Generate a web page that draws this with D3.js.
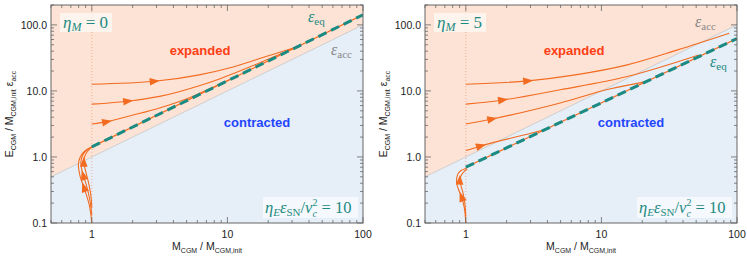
<!DOCTYPE html>
<html>
<head>
<meta charset="utf-8">
<script src="https://cdn.jsdelivr.net/npm/d3@7"></script>
<style>
  body { margin: 0; background: #fff; }
  text { font-family: "Liberation Sans", Arial, sans-serif; }
  .math { font-family: "Liberation Serif", "Times New Roman", serif; }
</style>
</head>
<body>
<script>
const width = 747;
const height = 256;

// axis ticks
const xTicks = [1, 10, 100];
const xTickLabels = ["1", "10", "100"];
const yTicks = [0.1, 1, 10, 100];
const yTickLabels = ["0.1", "1.0", "10.0", "100.0"];

// boundary lines (M, E)
const accLine = [[0.5, 0.5], [100, 100]];
const eqLeft = [[1, 1.42], [100, 142]];
const eqRight = [[1, 0.70], [100, 62]];

// trajectories, eta_M = 0
const leftA = [[1, 12.6], [3.0, 14.1], [6.2, 17.5], [10.3, 22.3], [20.4, 34.5], [32.2, 46.0]];
const leftB = [[1, 6.3], [1.9, 7.05], [3.16, 8.26], [6.2, 12.0], [8.74, 15.2], [17.2, 26.5], [32.2, 45.7]];
const leftC = [[1, 3.16], [1.31, 3.43], [1.9, 4.18], [3.16, 5.53], [5.25, 7.9], [8.02, 11.6], [12, 17.0]];
const leftL1 = [[1, 0.1], [0.958, 0.187], [0.888, 0.316], [0.816, 0.533], [0.796, 0.756], [0.816, 0.966], [0.873, 1.19], [0.934, 1.32], [1.017, 1.44]];
const leftL2 = [[1, 0.132], [0.967, 0.223], [0.911, 0.377], [0.851, 0.593], [0.830, 0.811], [0.851, 1.035], [0.903, 1.23], [0.967, 1.37], [1.017, 1.44]];
const leftL3 = [[1, 0.169], [0.983, 0.266], [0.943, 0.418], [0.896, 0.635], [0.873, 0.84], [0.888, 1.035], [0.935, 1.23], [0.983, 1.37], [1.017, 1.44]];

// trajectories, eta_M = 5
const rightA = [[1, 12.6], [2.88, 14.2], [6.42, 17.5], [15.5, 24.8], [36.4, 41.8], [87.7, 74.9]];
const rightB = [[1, 6.3], [1.88, 7.3], [4.97, 10.4], [15.5, 16.5], [52.3, 35.0]];
const rightC = [[1, 3.16], [1.56, 3.76], [4.97, 6.58], [11.7, 10.8], [20.5, 13.6]];
const rightD = [[1, 1.25], [1.29, 1.47], [3.07, 2.3], [4.0, 2.65]];
const rightL1 = [[1, 0.1], [0.971, 0.177], [0.929, 0.25], [0.877, 0.336], [0.853, 0.422], [0.868, 0.534], [0.918, 0.62], [1.012, 0.674]];
const rightL2 = [[1, 0.125], [0.983, 0.199], [0.955, 0.282], [0.918, 0.377], [0.903, 0.449], [0.929, 0.534], [0.971, 0.599], [1.022, 0.658]];

const orange = "#f26b21";
const teal = "#1b8a82";

const svg = d3.select("body").append("svg")
    .attr("width", width)
    .attr("height", height)
    .attr("viewBox", `0 0 ${width} ${height}`);

const plotW = 312, plotH = 218, plotTop = 5;

// loops run up in E, the others run right in M
const panels = [
    { left: 51, eq: eqLeft, etaM: "0", eqLabelAbove: true,
      trajs: [
        { pts: leftA, arrow: { M: 2.9 } },
        { pts: leftB, arrow: { M: 1.84 } },
        { pts: leftC, arrow: { M: 1.29 } },
        { pts: leftL1, arrow: { E: 0.35 }, loop: true },
        { pts: leftL2, arrow: { E: 0.53 }, loop: true },
        { pts: leftL3, arrow: { E: 0.84 }, loop: true }
      ] },
    { left: 425, eq: eqRight, etaM: "5", eqLabelAbove: false,
      trajs: [
        { pts: rightA, arrow: { M: 2.88 } },
        { pts: rightB, arrow: { M: 1.88 } },
        { pts: rightC, arrow: { M: 1.56 } },
        { pts: rightD, arrow: { M: 1.29 } },
        { pts: rightL1, arrow: { E: 0.25 }, loop: true },
        { pts: rightL2, arrow: { E: 0.45 }, loop: true }
      ] }
];

panels.forEach(p => drawPanel(p));

function drawPanel(p) {
    const x = d3.scaleLog().domain([0.5, 100]).range([p.left, p.left + plotW]);
    const y = d3.scaleLog().domain([0.1, 200]).range([plotTop + plotH, plotTop]);
    const g = svg.append("g");

    const clipId = "clip" + p.left;
    g.append("clipPath").attr("id", clipId)
        .append("rect").attr("x", p.left).attr("y", plotTop).attr("width", plotW).attr("height", plotH);
    const inner = g.append("g").attr("clip-path", `url(#${clipId})`);

    // region fills
    inner.append("rect").attr("x", p.left).attr("y", plotTop).attr("width", plotW).attr("height", plotH)
        .attr("fill", "#fde3d5");
    const accPts = accLine.map(d => [x(d[0]), y(d[1])]);
    inner.append("path")
        .attr("d", d3.line()([accPts[0], accPts[1], [x(100), y(0.1)], [x(0.5), y(0.1)]]) + "Z")
        .attr("fill", "#e6eef8");
    inner.append("path")
        .attr("d", d3.line()(accPts))
        .attr("stroke", "#cfcfcf").attr("stroke-width", 1).attr("fill", "none");

    // vertical dotted line at M = 1
    inner.append("line")
        .attr("x1", x(1)).attr("x2", x(1)).attr("y1", plotTop).attr("y2", plotTop + plotH)
        .attr("stroke", "#f4a27e").attr("stroke-width", 0.8).attr("stroke-dasharray", "1,2");

    const lineX = d3.line().x(d => x(d[0])).y(d => y(d[1])).curve(d3.curveMonotoneX);
    const lineY = d3.line().x(d => x(d[0])).y(d => y(d[1])).curve(d3.curveMonotoneY);

    // orange line under the equilibrium
    inner.append("path").attr("d", lineX(p.eq))
        .attr("stroke", orange).attr("stroke-width", 1.2).attr("fill", "none");

    p.trajs.forEach(t => {
        const path = inner.append("path").attr("d", (t.loop ? lineY : lineX)(t.pts))
            .attr("stroke", orange).attr("stroke-width", 1.1).attr("fill", "none");
        drawArrow(inner, path.node(), t.arrow, x, y);
    });

    // equilibrium dashed
    inner.append("path").attr("d", lineX(p.eq))
        .attr("stroke", teal).attr("stroke-width", 3).attr("fill", "none")
        .attr("stroke-dasharray", "9,5");

    // frame
    g.append("rect").attr("x", p.left).attr("y", plotTop).attr("width", plotW).attr("height", plotH)
        .attr("fill", "none").attr("stroke", "#666").attr("stroke-width", 1);

    // ticks
    const tk = g.append("g").attr("stroke", "#666").attr("stroke-width", 0.8);
    x.ticks().forEach(v => {
        const major = xTicks.includes(v);
        const len = major ? 6 : 3;
        tk.append("line").attr("x1", x(v)).attr("x2", x(v)).attr("y1", plotTop + plotH).attr("y2", plotTop + plotH - len);
        tk.append("line").attr("x1", x(v)).attr("x2", x(v)).attr("y1", plotTop).attr("y2", plotTop + len);
    });
    y.ticks().forEach(v => {
        const major = yTicks.includes(v);
        const len = major ? 6 : 3;
        tk.append("line").attr("x1", p.left).attr("x2", p.left + len).attr("y1", y(v)).attr("y2", y(v));
        tk.append("line").attr("x1", p.left + plotW).attr("x2", p.left + plotW - len).attr("y1", y(v)).attr("y2", y(v));
    });
    xTicks.forEach((v, i) => {
        g.append("text").attr("x", x(v)).attr("y", plotTop + plotH + 15)
            .attr("text-anchor", "middle").attr("font-size", 10.5).attr("fill", "#222")
            .text(xTickLabels[i]);
    });
    yTicks.forEach((v, i) => {
        g.append("text").attr("x", p.left - 4).attr("y", y(v) + 4)
            .attr("text-anchor", "end").attr("font-size", 10.5).attr("fill", "#222")
            .text(yTickLabels[i]);
    });

    // axis titles
    const xt = g.append("text").attr("x", p.left + plotW / 2).attr("y", 250)
        .attr("text-anchor", "middle").attr("font-size", 10.5).attr("fill", "#222");
    xt.append("tspan").text("M");
    xt.append("tspan").attr("font-size", 7).attr("dy", 2.5).text("CGM");
    xt.append("tspan").attr("dy", -2.5).text(" / M");
    xt.append("tspan").attr("font-size", 7).attr("dy", 2.5).text("CGM,init");

    const yt = g.append("text")
        .attr("transform", `translate(${p.left - 38},${plotTop + plotH / 2}) rotate(-90)`)
        .attr("text-anchor", "middle").attr("font-size", 10.5).attr("fill", "#222");
    yt.append("tspan").text("E");
    yt.append("tspan").attr("font-size", 7).attr("dy", 2.5).text("CGM");
    yt.append("tspan").attr("dy", -2.5).text(" / M");
    yt.append("tspan").attr("font-size", 7).attr("dy", 2.5).text("CGM,init");
    yt.append("tspan").attr("dy", -2.5).text(" ε");
    yt.append("tspan").attr("font-size", 7).attr("dy", 2.5).text("acc");

    // region labels
    g.append("text").attr("x", p.left + 149).attr("y", 55).attr("text-anchor", "middle")
        .attr("font-size", 13).attr("font-weight", "bold").attr("fill", "#ff3d14").text("expanded");
    g.append("text").attr("x", p.left + 206).attr("y", 127).attr("text-anchor", "middle")
        .attr("font-size", 13).attr("font-weight", "bold").attr("fill", "#1f45ff").text("contracted");

    // epsilon labels
    const epsLabel = (tx, ty, sub, color) => {
        const t = g.append("text").attr("class", "math").attr("x", tx).attr("y", ty)
            .attr("font-size", 16).attr("fill", color);
        t.append("tspan").attr("font-style", "italic").text("ε");
        t.append("tspan").attr("font-size", 11).attr("dy", 3).text(sub);
    };
    if (p.eqLabelAbove) {
        epsLabel(p.left + 257, 22, "eq", teal);
        epsLabel(p.left + 280, 55, "acc", "#888");
    } else {
        epsLabel(p.left + 270, 27, "acc", "#888");
        epsLabel(p.left + 285, 67, "eq", teal);
    }

    // eta_M box
    g.append("rect").attr("x", p.left + 9).attr("y", 13).attr("width", 52).attr("height", 19)
        .attr("fill", "#fff").attr("fill-opacity", 0.6);
    const em = g.append("text").attr("class", "math").attr("x", p.left + 12).attr("y", 28)
        .attr("font-size", 17).attr("fill", teal);
    em.append("tspan").attr("font-style", "italic").text("η");
    em.append("tspan").attr("font-style", "italic").attr("font-size", 12).attr("dy", 3).text("M");
    em.append("tspan").attr("dy", -3).text(" = " + p.etaM);

    // eta_E box
    g.append("rect").attr("x", p.left + 212).attr("y", 197).attr("width", 95).attr("height", 21)
        .attr("fill", "#fff").attr("fill-opacity", 0.6);
    const ee = g.append("text").attr("class", "math").attr("x", p.left + 214).attr("y", 213)
        .attr("font-size", 16.5).attr("fill", teal);
    ee.append("tspan").attr("font-style", "italic").text("η");
    ee.append("tspan").attr("font-style", "italic").attr("font-size", 11).attr("dy", 3).text("E");
    ee.append("tspan").attr("font-style", "italic").attr("dy", -3).text("ε");
    ee.append("tspan").attr("font-size", 11).attr("dy", 3).text("SN");
    ee.append("tspan").attr("dy", -3).text("/");
    ee.append("tspan").attr("font-style", "italic").text("v");
    ee.append("tspan").attr("font-style", "italic").attr("font-size", 10).attr("dy", 3.5).text("c");
    ee.append("tspan").attr("font-size", 10).attr("dx", -4.5).attr("dy", -11).text("2");
    ee.append("tspan").attr("dy", 7.5).text(" = 10");
}

function drawArrow(g, node, spec, x, y) {
    const L = node.getTotalLength();
    let s = 0;
    for (; s < L; s += 0.5) {
        const pt = node.getPointAtLength(s);
        if (spec.M !== undefined && pt.x >= x(spec.M)) break;
        if (spec.E !== undefined && pt.y <= y(spec.E)) break;
    }
    const a = node.getPointAtLength(Math.max(0, s - 2));
    const b = node.getPointAtLength(Math.min(L, s + 2));
    const ang = Math.atan2(b.y - a.y, b.x - a.x) * 180 / Math.PI;
    const c = node.getPointAtLength(s);
    g.append("path")
        .attr("d", "M5,0 L-5,-3.8 L-5,3.8 Z")
        .attr("fill", orange)
        .attr("transform", `translate(${c.x},${c.y}) rotate(${ang})`);
}
</script>
</body>
</html>
